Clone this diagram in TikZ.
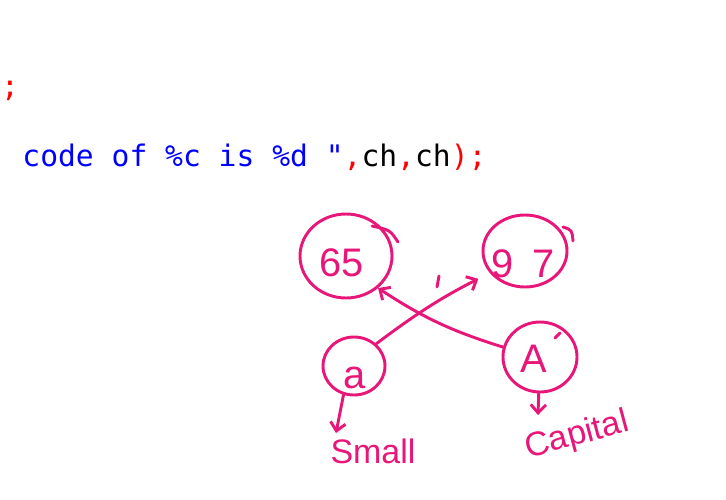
\documentclass[tikz,border=0pt]{standalone}
\usepackage{fontspec}
\usepackage{xcolor}
\usetikzlibrary{
    arrows.meta,
    shapes.geometric,
    positioning
}
\newfontfamily\codefont{DejaVu Sans Mono}
\newfontfamily\handfont{Liberation Sans}
\definecolor{ink}{RGB}{232,22,120}
\definecolor{codeblue}{RGB}{0,0,255}
\definecolor{codered}{RGB}{255,0,0}

\begin{document}
\begin{tikzpicture}[x=0.03cm, y=-0.03cm,
        line width=2.5pt, line cap=round, line join=round, ink,
        bubble/.style={draw, ellipse, inner sep=0pt},
        digits/.style={inner sep=0pt, font=\handfont\fontsize{34}{34}\selectfont},
        scrawl/.style={inner sep=0pt, font=\handfont\fontsize{29}{29}\selectfont},
        code/.style={inner sep=0pt, font=\codefont\fontsize{25.3}{30}\selectfont},
        hand/.style={-{Straight Barb[length=7pt,width=13pt]}}]
                        \useasboundingbox (0,0) rectangle (726,499);

                        % the code on the screen
                        \node[code, codered, anchor=base] (semi) at (10,96) {;};
                        \node[code, anchor=base west] (line) at (21,166)
                            {\color{codeblue}code of \%c is \%d "\color{codered},\color{black}ch\color{codered},\color{black}ch\color{codered});};

                        % the sketch
                        \node[bubble, minimum width=2.76cm, minimum height=2.52cm] (n65) at (346,256) {};
                        \node[bubble, minimum width=2.52cm, minimum height=2.16cm] (n97) at (525,251) {};
                        \node[bubble, minimum width=1.86cm, minimum height=1.74cm] (sa) at (354,366) {};
                        \node[bubble, minimum width=2.22cm, minimum height=2.1cm] (ca) at (540,357) {};

                        \node[digits] (t65) at (342,263) {65};
                        \node[digits] (t97) at (523,264) {9\hspace{16pt}7};
                        \node[digits] (ta) at (355,378) {a};
                        \node[digits] (tA) at (534,359) {A};

                        \node[scrawl] (small) at (373,451) {Small};
                        \node[scrawl, rotate=15] (capital) at (577,436) {Capital};

                        \coordinate (sd) at (336,433);
                        \coordinate (cd) at (538,415);

                        \draw
                        (sa.45) edge[hand, bend left=5, shorten >=11pt] (n97.212)
                        (ca.165) edge[hand, bend left=8] (n65.-45)
                        (sa.250) edge[hand] (sd)
                        (ca.268) edge[hand] (cd);

                        \draw (372,226) .. controls (390,230) .. (398,242);
                        \draw (563,227) .. controls (572,230) .. (573,241);
                        \draw (555,338) -- (560,333);
                        \draw (439,276) -- (437,287);
                    \end{tikzpicture}
\end{document}
